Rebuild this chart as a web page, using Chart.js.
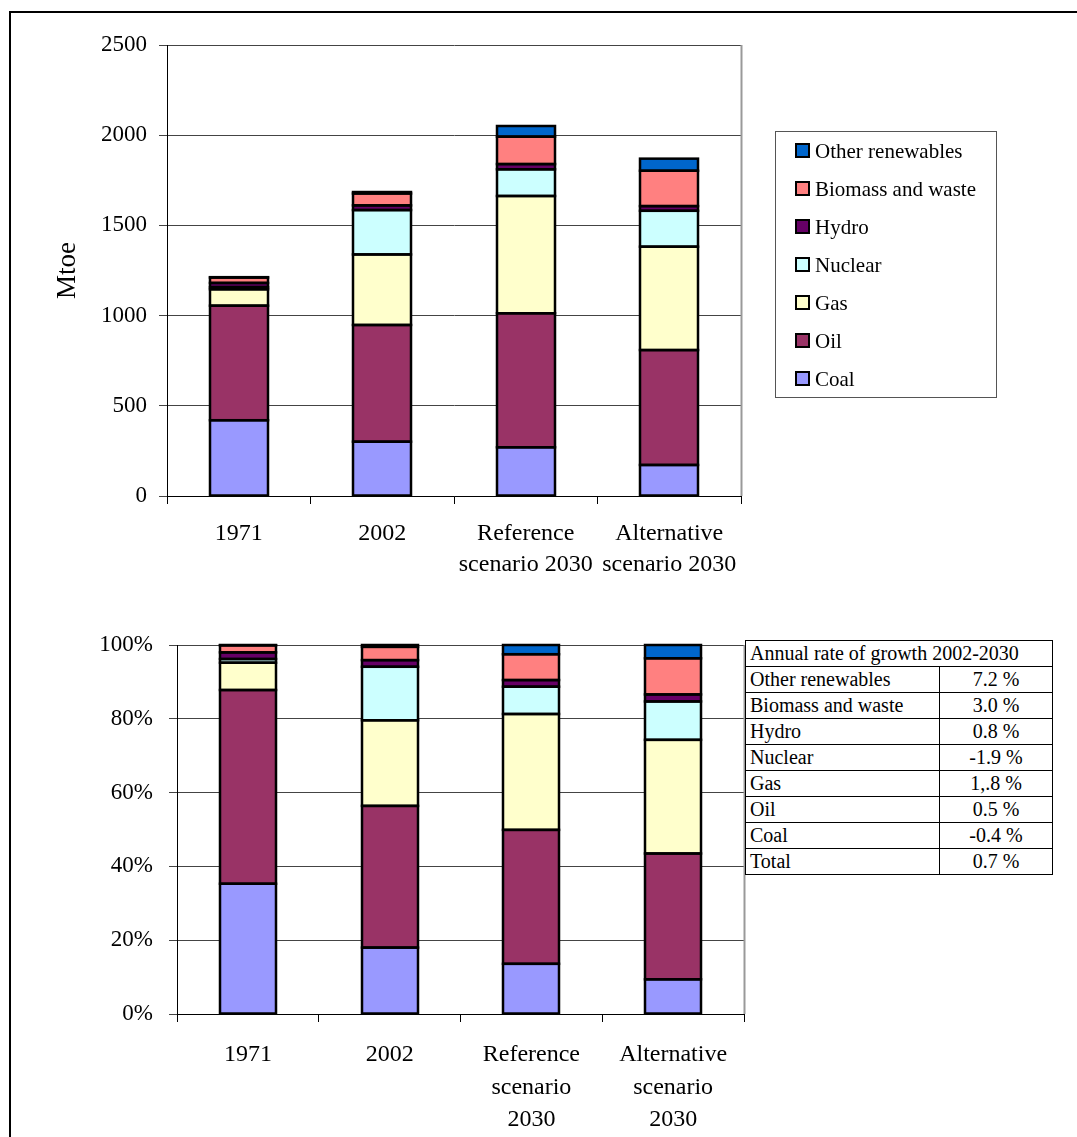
<!DOCTYPE html>
<html><head><meta charset="utf-8">
<script src="https://cdn.jsdelivr.net/npm/chart.js@4.4.1/dist/chart.umd.min.js"></script>
<style>
html,body{margin:0;padding:0;width:1077px;height:1137px;overflow:hidden;background:#fff;font-family:"Liberation Serif","Times New Roman",serif;}
#frame{position:absolute;left:9px;top:11px;width:1200px;height:1300px;border:2px solid #000;box-sizing:border-box;}
#c1{position:absolute;left:0;top:0;}
#c2{position:absolute;left:0;top:600px;}
#tbl{position:absolute;left:745px;top:640px;border-collapse:collapse;font-size:20px;color:#000;background:#fff;}
#tbl td{border:1.5px solid #000;height:25px;line-height:25px;padding:0 0 0 4px;white-space:nowrap;}
#tbl td.v{text-align:center;padding:0;}
</style></head>
<body>
<div id="frame"></div>
<canvas id="c1" width="1077" height="600"></canvas>
<canvas id="c2" width="1077" height="537"></canvas>
<table id="tbl"></table>
<script>
// ---- data ----
const seriesNames = ["Coal","Oil","Gas","Nuclear","Hydro","Biomass and waste","Other renewables"];
const seriesColors = ["#9999FF","#993366","#FFFFCC","#CCFFFF","#660066","#FF8080","#0066CC"];
const categoriesTop = ["1971","2002",["Reference","scenario 2030"],["Alternative","scenario 2030"]];
const categoriesBottom = ["1971","2002",["Reference","scenario","2030"],["Alternative","scenario","2030"]];
// Mtoe
const coalMtoe    = [420, 301, 270, 172];
const oilMtoe     = [635, 647, 743, 637];
const gasMtoe     = [91, 391, 650, 573];
const nuclearMtoe = [12, 246, 148, 199];
const hydroMtoe   = [23, 26, 29, 26];
const biomassMtoe = [30, 66, 152, 196];
const otherMtoe   = [2, 8, 59, 67];
// shares (%)
const coalShare    = [35.3, 18.0, 13.6, 9.4];
const oilShare     = [52.5, 38.4, 36.3, 34.1];
const gasShare     = [7.4, 23.2, 31.4, 30.8];
const nuclearShare = [1.0, 14.5, 7.4, 10.4];
const hydroShare   = [1.8, 1.8, 1.8, 1.9];
const biomassShare = [1.9, 3.6, 7.0, 9.8];
const otherShare   = [0.1, 0.5, 2.5, 3.6];
// ticks
const mtoeTicks = {min:0, max:2500, step:500};
const shareTicks = {min:0, max:100, step:20};
// growth table
const growthTitle = "Annual rate of growth 2002-2030";
const growthLabels = ["Other renewables","Biomass and waste","Hydro","Nuclear","Gas","Oil","Coal","Total"];
const growthValues = ["7.2 %","3.0 %","0.8 %","-1.9 %","1,.8 %","0.5 %","-0.4 %","0.7 %"];

const FONT = '"Liberation Serif","Times New Roman",serif';
const mtoeData = [coalMtoe, oilMtoe, gasMtoe, nuclearMtoe, hydroMtoe, biomassMtoe, otherMtoe];
const shareData = [coalShare, oilShare, gasShare, nuclearShare, hydroShare, biomassShare, otherShare];

function makeDatasets(arrs, bp){
  return arrs.map((d,i)=>({label:seriesNames[i], data:d, backgroundColor:seriesColors[i],
    borderWidth:0, inflateAmount:0, categoryPercentage:1, barPercentage:bp}));
}

const barOutline = {id:'barOutline', afterDatasetsDraw(chart){
  const ctx = chart.ctx;
  ctx.save(); ctx.strokeStyle='#000'; ctx.lineWidth=2.5; ctx.lineJoin='miter';
  chart.data.datasets.forEach((d,i)=>{
    chart.getDatasetMeta(i).data.forEach(el=>{
      const p = el.getProps(['x','y','base','width'], true);
      const top = Math.min(p.y, p.base), h = Math.abs(p.base - p.y);
      ctx.strokeRect(Math.round(p.x - p.width/2), top, Math.round(p.width), h);
    });
  });
  ctx.restore();
}};

const rightBorder = {id:'rightBorder', afterDraw(chart){
  const {ctx, chartArea:a} = chart;
  ctx.save(); ctx.strokeStyle='#999'; ctx.lineWidth=2;
  ctx.beginPath(); ctx.moveTo(a.right+0.5, a.top); ctx.lineTo(a.right+0.5, a.bottom); ctx.stroke();
  ctx.restore();
}};

const boxLegend = {id:'boxLegend', afterDraw(chart){
  const ctx = chart.ctx;
  ctx.save();
  ctx.strokeStyle='#555'; ctx.lineWidth=1;
  ctx.strokeRect(775.5,131.5,221,266);
  ctx.font = '21px '+FONT; ctx.textBaseline='middle';
  const ds = chart.data.datasets.slice().reverse();
  ds.forEach((d,i)=>{
    const cy = 151 + i*38;
    ctx.fillStyle = d.backgroundColor;
    ctx.fillRect(796, cy-7, 13, 13);
    ctx.strokeStyle='#000'; ctx.lineWidth=2;
    ctx.strokeRect(796, cy-7, 13, 13);
    ctx.fillStyle='#000';
    ctx.fillText(d.label, 815, cy+1);
  });
  ctx.restore();
}};

function makeChart(id, labels, datasets, cfg){
  return new Chart(document.getElementById(id), {
    type:'bar',
    data:{labels, datasets},
    plugins:cfg.plugins,
    options:{
      responsive:false, animation:false, devicePixelRatio:1,
      layout:{padding:{top:45, right:cfg.right, left:0, bottom:0}},
      plugins:{legend:{display:false}, tooltip:{enabled:false}},
      scales:{
        x:{stacked:true,
          grid:{display:true, drawOnChartArea:false, drawTicks:true, tickLength:8, color:'#000', offset:true},
          border:{display:true, color:'#000', width:1},
          ticks:{color:'#000', font:{family:FONT, size:24, lineHeight:cfg.lh}, padding:cfg.xpad, maxRotation:0, minRotation:0, autoSkip:false},
          afterFit(s){ s.height = cfg.xh; }},
        y:{stacked:true, min:cfg.ticks.min, max:cfg.ticks.max,
          ticks:{stepSize:cfg.ticks.step, color:'#000', font:{family:FONT, size:23}, padding:cfg.ypad, callback:cfg.cb},
          grid:{color:'#444', lineWidth:1, tickLength:8, drawTicks:true},
          border:{display:true, color:'#000', width:1},
          title:cfg.title,
          afterFit(s){ s.width = cfg.yw; }}
      }
    }
  });
}

makeChart('c1', categoriesTop, makeDatasets(mtoeData, 0.404), {
  right:336, xh:104, yw:167, lh:1.3, xpad:14, ypad:12, ticks:mtoeTicks,
  cb:(v)=>v,
  title:{display:true, text:'Mtoe', color:'#000', font:{family:FONT, size:27}, padding:{top:52, bottom:0}},
  plugins:[barOutline, rightBorder, boxLegend]
});
makeChart('c2', categoriesBottom, makeDatasets(shareData, 0.395), {
  right:333, xh:123, yw:177, lh:1.34, xpad:17, ypad:16, ticks:shareTicks,
  cb:(v)=>v+'%',
  title:{display:false},
  plugins:[barOutline, rightBorder]
});

// table
const tbl = document.getElementById('tbl');
let html = '<tr><td colspan="2" style="width:301px">'+growthTitle+'</td></tr>';
growthLabels.forEach((l,i)=>{
  html += '<tr><td style="width:189px">'+l+'</td><td class="v" style="width:112px">'+growthValues[i]+'</td></tr>';
});
tbl.innerHTML = html;
</script>
</body></html>
